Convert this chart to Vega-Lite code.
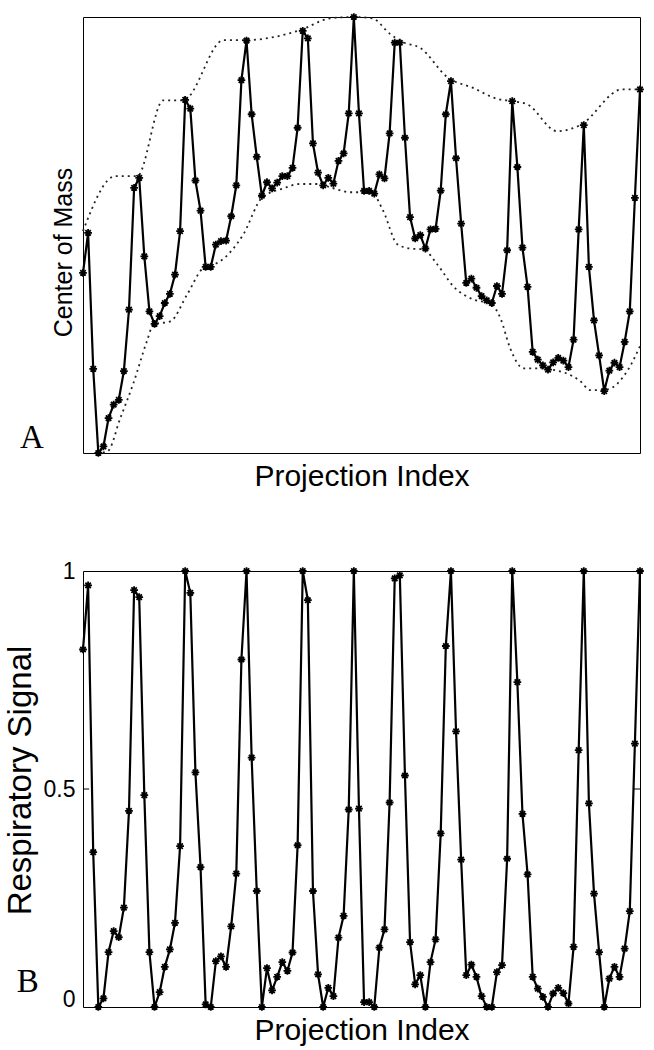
{
  "$schema": "https://vega.github.io/schema/vega-lite/v6.json",
  "background": "white",
  "padding": {"left": 3, "top": 9, "right": 12, "bottom": 5},
  "spacing": 67,
  "config": {
    "view": {"stroke": "#000", "strokeWidth": 1},
    "axis": {"grid": false, "domain": false, "labelFont": "Liberation Sans", "titleFont": "Liberation Sans", "titleFontWeight": "normal", "labelColor": "#000", "titleColor": "#000"}
  },
  "datasets": {
    "resp": [
      {"i":0,"com":0.413,"sig":0.82},{"i":1,"com":0.505,"sig":0.967},{"i":2,"com":0.193,"sig":0.355},{"i":3,"com":0,"sig":0},{"i":4,"com":0.015,"sig":0.02},
      {"i":5,"com":0.08,"sig":0.126},{"i":6,"com":0.111,"sig":0.174},{"i":7,"com":0.122,"sig":0.16},{"i":8,"com":0.188,"sig":0.228},{"i":9,"com":0.329,"sig":0.45},
      {"i":10,"com":0.608,"sig":0.956},{"i":11,"com":0.631,"sig":0.94},{"i":12,"com":0.451,"sig":0.486},{"i":13,"com":0.325,"sig":0.126},{"i":14,"com":0.296,"sig":0},
      {"i":15,"com":0.314,"sig":0.034},{"i":16,"com":0.344,"sig":0.092},{"i":17,"com":0.365,"sig":0.132},{"i":18,"com":0.409,"sig":0.193},{"i":19,"com":0.509,"sig":0.369},
      {"i":20,"com":0.81,"sig":1.0},{"i":21,"com":0.79,"sig":0.95},{"i":22,"com":0.625,"sig":0.538},{"i":23,"com":0.556,"sig":0.321},{"i":24,"com":0.427,"sig":0.006},
      {"i":25,"com":0.427,"sig":0},{"i":26,"com":0.478,"sig":0.105},{"i":27,"com":0.486,"sig":0.116},{"i":28,"com":0.487,"sig":0.092},{"i":29,"com":0.543,"sig":0.185},
      {"i":30,"com":0.614,"sig":0.306},{"i":31,"com":0.855,"sig":0.797},{"i":32,"com":0.946,"sig":1.0},{"i":33,"com":0.777,"sig":0.572},{"i":34,"com":0.679,"sig":0.266},
      {"i":35,"com":0.59,"sig":0},{"i":36,"com":0.621,"sig":0.089},{"i":37,"com":0.607,"sig":0.038},{"i":38,"com":0.62,"sig":0.069},{"i":39,"com":0.635,"sig":0.103},
      {"i":40,"com":0.635,"sig":0.083},{"i":41,"com":0.654,"sig":0.125},{"i":42,"com":0.746,"sig":0.371},{"i":43,"com":0.968,"sig":1.0},{"i":44,"com":0.951,"sig":0.933},
      {"i":45,"com":0.71,"sig":0.266},{"i":46,"com":0.643,"sig":0.075},{"i":47,"com":0.614,"sig":0},{"i":48,"com":0.631,"sig":0.044},{"i":49,"com":0.618,"sig":0.025},
      {"i":50,"com":0.67,"sig":0.159},{"i":51,"com":0.687,"sig":0.209},{"i":52,"com":0.779,"sig":0.453},{"i":53,"com":1.0,"sig":1.0},{"i":54,"com":0.779,"sig":0.455},
      {"i":55,"com":0.601,"sig":0.011},{"i":56,"com":0.601,"sig":0.011},{"i":57,"com":0.595,"sig":0},{"i":58,"com":0.639,"sig":0.136},{"i":59,"com":0.63,"sig":0.178},
      {"i":60,"com":0.733,"sig":0.469},{"i":61,"com":0.941,"sig":0.983},{"i":62,"com":0.941,"sig":0.99},{"i":63,"com":0.723,"sig":0.531},{"i":64,"com":0.541,"sig":0.149},
      {"i":65,"com":0.492,"sig":0.052},{"i":66,"com":0.5,"sig":0.073},{"i":67,"com":0.469,"sig":0},{"i":68,"com":0.513,"sig":0.103},{"i":69,"com":0.514,"sig":0.155},
      {"i":70,"com":0.602,"sig":0.398},{"i":71,"com":0.777,"sig":0.828},{"i":72,"com":0.853,"sig":1.0},{"i":73,"com":0.676,"sig":0.632},{"i":74,"com":0.526,"sig":0.338},
      {"i":75,"com":0.39,"sig":0.073},{"i":76,"com":0.4,"sig":0.097},{"i":77,"com":0.379,"sig":0.069},{"i":78,"com":0.36,"sig":0.025},{"i":79,"com":0.35,"sig":0},
      {"i":80,"com":0.344,"sig":0},{"i":81,"com":0.383,"sig":0.08},{"i":82,"com":0.365,"sig":0.096},{"i":83,"com":0.465,"sig":0.34},{"i":84,"com":0.807,"sig":1.0},
      {"i":85,"com":0.656,"sig":0.745},{"i":86,"com":0.471,"sig":0.443},{"i":87,"com":0.381,"sig":0.304},{"i":88,"com":0.232,"sig":0.069},{"i":89,"com":0.214,"sig":0.042},
      {"i":90,"com":0.201,"sig":0.023},{"i":91,"com":0.191,"sig":0},{"i":92,"com":0.208,"sig":0.031},{"i":93,"com":0.218,"sig":0.044},{"i":94,"com":0.212,"sig":0.032},
      {"i":95,"com":0.197,"sig":0.008},{"i":96,"com":0.26,"sig":0.138},{"i":97,"com":0.513,"sig":0.589},{"i":98,"com":0.752,"sig":1.0},{"i":99,"com":0.427,"sig":0.467},
      {"i":100,"com":0.304,"sig":0.26},{"i":101,"com":0.224,"sig":0.126},{"i":102,"com":0.142,"sig":0},{"i":103,"com":0.189,"sig":0.065},{"i":104,"com":0.207,"sig":0.092},
      {"i":105,"com":0.197,"sig":0.069},{"i":106,"com":0.255,"sig":0.134},{"i":107,"com":0.325,"sig":0.22},{"i":108,"com":0.585,"sig":0.604},{"i":109,"com":0.834,"sig":1.0}
    ],
    "env": [
      {"env":"upper","i":0,"com":0.509},{"env":"upper","i":6.3,"com":0.635},{"env":"upper","i":10.6,"com":0.635},{"env":"upper","i":15.7,"com":0.809},
      {"env":"upper","i":19.6,"com":0.809},{"env":"upper","i":27.5,"com":0.947},{"env":"upper","i":31.8,"com":0.947},{"env":"upper","i":42.5,"com":0.97},
      {"env":"upper","i":48.4,"com":0.997},{"env":"upper","i":52.9,"com":1.0},{"env":"upper","i":56.6,"com":0.997},{"env":"upper","i":60.1,"com":0.961},
      {"env":"upper","i":62.7,"com":0.942},{"env":"upper","i":66,"com":0.929},{"env":"upper","i":71.3,"com":0.862},{"env":"upper","i":76.4,"com":0.837},
      {"env":"upper","i":81.1,"com":0.812},{"env":"upper","i":84,"com":0.807},{"env":"upper","i":86.9,"com":0.8},{"env":"upper","i":92.8,"com":0.738},
      {"env":"upper","i":97.3,"com":0.752},{"env":"upper","i":105.5,"com":0.834},{"env":"upper","i":109,"com":0.834},
      {"env":"lower","i":2.7,"com":0},{"env":"lower","i":4.8,"com":0.004},{"env":"lower","i":7.3,"com":0.08},{"env":"lower","i":9.8,"com":0.158},
      {"env":"lower","i":12.5,"com":0.256},{"env":"lower","i":13.8,"com":0.295},{"env":"lower","i":17.1,"com":0.302},{"env":"lower","i":20.4,"com":0.364},
      {"env":"lower","i":23.5,"com":0.424},{"env":"lower","i":26.9,"com":0.44},{"env":"lower","i":31.4,"com":0.502},{"env":"lower","i":35,"com":0.585},
      {"env":"lower","i":39.2,"com":0.607},{"env":"lower","i":42.5,"com":0.617},{"env":"lower","i":45.9,"com":0.617},{"env":"lower","i":49,"com":0.607},
      {"env":"lower","i":52.3,"com":0.598},{"env":"lower","i":54.9,"com":0.598},{"env":"lower","i":56.8,"com":0.593},{"env":"lower","i":58.8,"com":0.554},
      {"env":"lower","i":61.5,"com":0.479},{"env":"lower","i":64,"com":0.469},{"env":"lower","i":66.6,"com":0.467},{"env":"lower","i":69.3,"com":0.433},
      {"env":"lower","i":72.5,"com":0.382},{"env":"lower","i":76.4,"com":0.352},{"env":"lower","i":79.7,"com":0.343},{"env":"lower","i":81.7,"com":0.309},
      {"env":"lower","i":83.6,"com":0.24},{"env":"lower","i":86.2,"com":0.194},{"env":"lower","i":89.5,"com":0.194},{"env":"lower","i":91.4,"com":0.192},
      {"env":"lower","i":97.3,"com":0.165},{"env":"lower","i":99.3,"com":0.144},{"env":"lower","i":102.6,"com":0.146},{"env":"lower","i":106.5,"com":0.188},
      {"env":"lower","i":109,"com":0.245}
    ]
  },
  "vconcat": [
    {
      "width": 557,
      "height": 436,
      "layer": [
        {"data": {"name": "env"}, "mark": {"type": "line", "interpolate": "monotone", "color": "#222", "strokeWidth": 1.8, "strokeDash": [2, 4]},
         "encoding": {
           "x": {"field": "i", "type": "quantitative", "scale": {"domain": [0, 109], "nice": false, "zero": false},
                 "axis": {"labels": false, "ticks": false, "title": "Projection Index", "titleFontSize": 30, "titlePadding": 8}},
           "y": {"field": "com", "type": "quantitative", "scale": {"domain": [0, 1], "nice": false, "zero": false},
                 "axis": {"labels": false, "ticks": false, "title": "Center of Mass", "titleFontSize": 25, "titlePadding": 7, "titleY": 235}},
           "detail": {"field": "env"}}},
        {"data": {"name": "resp"}, "mark": {"type": "line", "color": "#000", "strokeWidth": 2.2},
         "encoding": {"x": {"field": "i", "type": "quantitative"}, "y": {"field": "com", "type": "quantitative"}}},
        {"data": {"name": "resp"}, "mark": {"type": "point", "shape": "M-1,0H1M0,-1V1M-0.7,-0.7L0.7,0.7M-0.7,0.7L0.7,-0.7", "filled": false, "stroke": "#000", "strokeWidth": 1.8, "size": 60, "opacity": 1},
         "encoding": {"x": {"field": "i", "type": "quantitative"}, "y": {"field": "com", "type": "quantitative"}}},
        {"data": {"values": [{"t": "A"}]}, "mark": {"type": "text", "font": "Liberation Serif", "fontSize": 33, "align": "center", "baseline": "alphabetic", "fill": "#000", "clip": false},
         "encoding": {"x": {"datum": -10, "type": "quantitative"}, "y": {"datum": 0.011, "type": "quantitative"}, "text": {"field": "t", "type": "nominal"}}}
      ]
    },
    {
      "width": 557,
      "height": 436,
      "layer": [
        {"data": {"name": "resp"}, "mark": {"type": "line", "color": "#000", "strokeWidth": 2.2},
         "encoding": {
           "x": {"field": "i", "type": "quantitative", "scale": {"domain": [0, 109], "nice": false, "zero": false},
                 "axis": {"labels": false, "ticks": false, "title": "Projection Index", "titleFontSize": 30, "titlePadding": 8}},
           "y": {"field": "sig", "type": "quantitative", "scale": {"domain": [0, 1], "nice": false, "zero": false},
                 "axis": {"values": [0, 0.5, 1], "format": ".1~f", "ticks": false, "labelFontSize": 23, "labelPadding": 8,
                          "labelOffset": {"condition": {"test": "datum.value == 0", "value": -8}, "value": 0},
                          "title": "Respiratory Signal", "titleFontSize": 33, "titlePadding": 6, "titleY": 209}}}},
        {"data": {"name": "resp"}, "mark": {"type": "point", "shape": "M-1,0H1M0,-1V1M-0.7,-0.7L0.7,0.7M-0.7,0.7L0.7,-0.7", "filled": false, "stroke": "#000", "strokeWidth": 1.8, "size": 60, "opacity": 1},
         "encoding": {"x": {"field": "i", "type": "quantitative"}, "y": {"field": "sig", "type": "quantitative"}}},
        {"data": {"values": [{}]}, "mark": {"type": "rule", "color": "#000", "strokeWidth": 1},
         "encoding": {"x": {"datum": 0, "type": "quantitative"}, "x2": {"datum": 1.2}, "y": {"datum": 0.5, "type": "quantitative"}}},
        {"data": {"values": [{}]}, "mark": {"type": "rule", "color": "#000", "strokeWidth": 1},
         "encoding": {"x": {"datum": 107.8, "type": "quantitative"}, "x2": {"datum": 109}, "y": {"datum": 0.5, "type": "quantitative"}}},
        {"data": {"values": [{"t": "B"}]}, "mark": {"type": "text", "font": "Liberation Serif", "fontSize": 33, "align": "center", "baseline": "alphabetic", "fill": "#000", "clip": false},
         "encoding": {"x": {"datum": -10.8, "type": "quantitative"}, "y": {"datum": 0.034, "type": "quantitative"}, "text": {"field": "t", "type": "nominal"}}}
      ]
    }
  ]
}
